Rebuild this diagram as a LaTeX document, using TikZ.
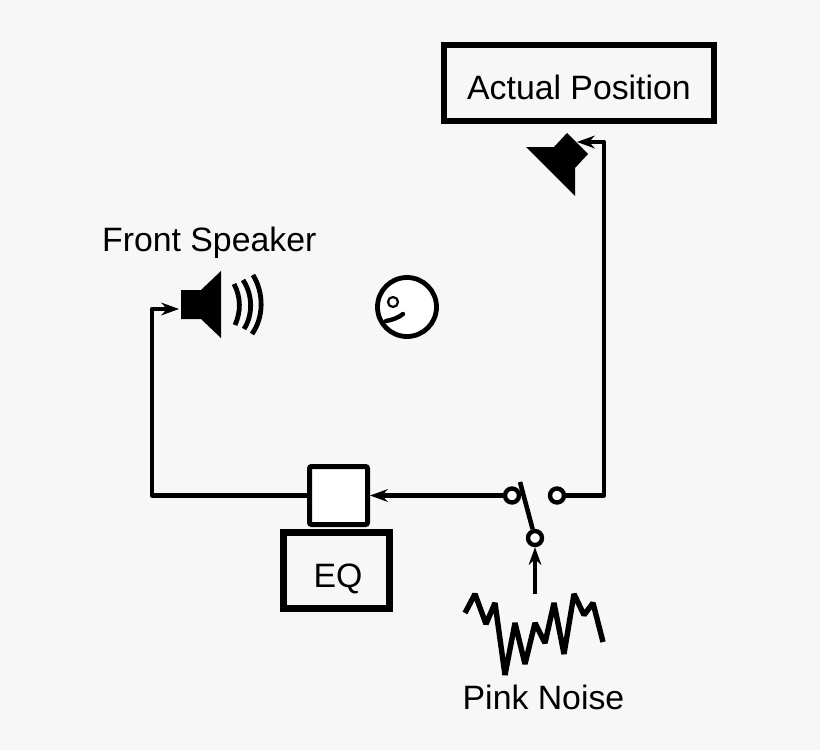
\documentclass[tikz,border=0pt]{standalone}
\usepackage{fontspec}
\setmainfont{Liberation Sans}
\usetikzlibrary{arrows.meta}
\definecolor{bg}{HTML}{F7F7F7}
\tikzset{
  wire/.style={line width=4.6pt,line cap=butt,line join=round},
  arrowwire/.style={wire,-{Stealth[length=18pt,width=13pt,inset=6pt,line width=0pt]}},
  heavybox/.style={draw,line width=7pt,fill=bg,inner sep=0pt,minimum width=#1},
  label/.style={inner sep=0pt,anchor=base west,font=\fontsize{33.8}{40}\selectfont},
  terminal/.style={circle,draw,line width=4.4pt,fill=white,minimum size=14pt,inner sep=0pt},
  solid shape/.style={fill=black,draw=none},
  wave/.style={line width=4.8pt,line cap=butt}
}
\begin{document}
\begin{tikzpicture}[x=1pt,y=-1pt]
\path[fill=bg] (0,0) rectangle (820,750);
\useasboundingbox (0,0) rectangle (820,750);
% boxes
\node[heavybox=270pt,line width=6pt,minimum height=76pt] (actual) at (579,83) {};
\node[heavybox=106pt,minimum height=76pt] (eq) at (336.5,570.5) {};
\node[draw,line width=5pt,fill=white,rounded corners=2pt,minimum width=58pt,minimum height=58pt,inner sep=0pt] (mixer) at (338.5,495.5) {};
% labels
\node[label] (actualtext) at (467,99.5) {Actual Position};
\node[label] (fronttext) at (102,251) {Front Speaker};
\node[label] (pinktext) at (462.5,709) {Pink Noise};
\node[label] (eqtext) at (313.5,587) {EQ};
% speakers
\path[solid shape] (181,290) -- (201,290) -- (221,271) -- (221,338) -- (201,319) -- (181,319) -- cycle;
\path[solid shape] (526,147) -- (554,147) -- (567,133) -- (588,154) -- (575,168) -- (575,196) -- cycle;
\draw[wave] (234,284) .. controls (241,297) and (241,312) .. (235,325);
\draw[wave] (243,280) .. controls (253,295) and (253,315) .. (244,329);
\draw[wave] (253,275) .. controls (264,293) and (264,317) .. (252,334);
% listener
\node[circle,draw,line width=4.8pt,fill=white,minimum size=59pt,inner sep=0pt] (head) at (407,307) {};
\node[circle,draw,line width=2.2pt,fill=white,minimum size=10pt,inner sep=0pt] (eye) at (393,302) {};
\draw[line width=4.4pt,line cap=round] (386,321) .. controls (392,320) and (398,318) .. (403,314);
% switch
\coordinate (lever) at (520,482);
\node[terminal] (swa) at (512,495.5) {};
\node[terminal] (swb) at (557,495.5) {};
\node[terminal] (swc) at (535,538) {};
\draw[wire] (swc) -- (lever);
% noise
\coordinate (noisetop) at (535,594);
\draw[line width=5.4pt,line join=bevel] (465,613) -- (475,594) -- (486,624) -- (495,603) -- (505,675) -- (515,623) -- (525,664) -- (535,623) -- (545,643) -- (554,603) -- (564,654) -- (574,594) -- (584,615) -- (593,603) -- (603,642);
% connectors
\coordinate (leftin) at (179,309);
\coordinate (topin) at (577,142);
\draw[wire] (mixer.west) -- (152,495.5) -- (152,309) -- (165,309);
\draw[arrowwire] (160,309) -- (leftin);
\draw[wire] (swb.east) -- (604,495.5) -- (604,142) -- (590,142);
\draw[arrowwire] (595,142) -- (topin);
\draw[arrowwire] (swa.west) -- (mixer.east);
\draw[arrowwire] (noisetop) -- (swc.south);
\end{tikzpicture}
\end{document}
